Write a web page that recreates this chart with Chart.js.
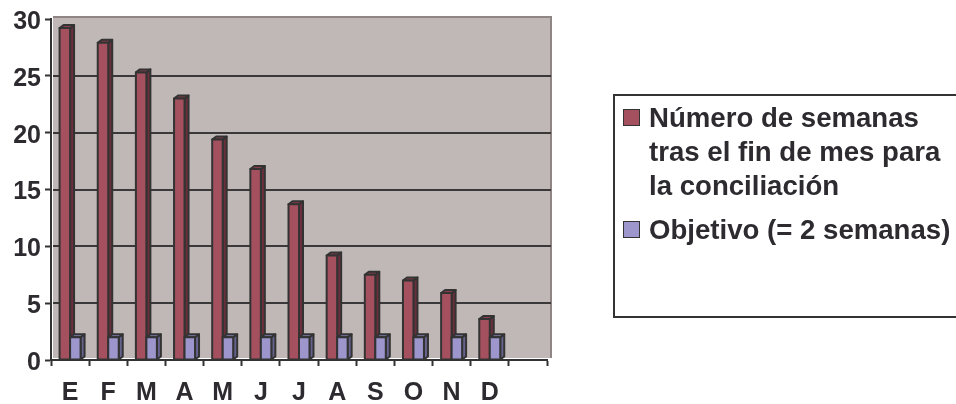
<!DOCTYPE html>
<html>
<head>
<meta charset="utf-8">
<script src="https://cdn.jsdelivr.net/npm/chart.js@4.4.1/dist/chart.umd.min.js"></script>
<style>
  html, body { margin: 0; padding: 0; background: #fff; overflow: hidden; }
  #wrap { position: relative; width: 956px; height: 404px; }
  #legenda {
    position: absolute; left: 613px; top: 94px; width: 380px; height: 224px;
    box-sizing: border-box; border: 2px solid #333; padding: 5px 0 0 8px;
    font: bold 27.6px "Liberation Sans", Arial, sans-serif; color: #2d2b30; line-height: 34px;
  }
  .item { display: flex; align-items: flex-start; margin-bottom: 10px; }
  .quad { width: 17px; height: 17px; box-sizing: border-box; border: 1.5px solid #333; margin-top: 8px; flex: none; }
  .txt { margin-left: 9px; width: 312px; }
</style>
</head>
<body>
<div id="wrap">
  <canvas id="grafico" width="956" height="404"></canvas>
  <div id="legenda"></div>
</div>
<script>
// dados
const meses = ['E', 'F', 'M', 'A', 'M', 'J', 'J', 'A', 'S', 'O', 'N', 'D', ''];
const semanas = [29.2, 27.9, 25.3, 23.0, 19.4, 16.8, 13.7, 9.2, 7.5, 7.0, 5.9, 3.6, null];
const objetivo = [2, 2, 2, 2, 2, 2, 2, 2, 2, 2, 2, 2, null];
const nomesSeries = ['Número de semanas tras el fin de mes para la conciliación', 'Objetivo (= 2 semanas)'];
const ticksY = [0, 5, 10, 15, 20, 25, 30];

const fonte = '"Liberation Sans", Arial, sans-serif';
const corTexto = '#2d2b30';

// fundo cinza da area do grafico + linhas de grade (parede de tras)
const fundoPlot = {
  id: 'fundoPlot',
  beforeDatasetsDraw: function(chart) {
    const a = chart.chartArea, ctx = chart.ctx;
    const y = chart.scales.y;
    ctx.save();
    ctx.fillStyle = '#c0b8b6';
    ctx.fillRect(a.left + 2, a.top - 2, a.right - a.left + 2, a.bottom - a.top);
    ctx.strokeStyle = '#8f8585';
    ctx.lineWidth = 2;
    ctx.beginPath();
    ctx.moveTo(a.left + 2, a.top - 2);
    ctx.lineTo(a.right + 4, a.top - 2);
    ctx.lineTo(a.right + 4, a.bottom - 2);
    ctx.stroke();
    ctx.strokeStyle = '#3a3838';
    ctx.lineWidth = 2;
    ticksY.forEach(function(v) {
      if (v === 0 || v === 30) return;
      const py = Math.round(y.getPixelForValue(v));
      ctx.beginPath();
      ctx.moveTo(a.left + 2, py);
      ctx.lineTo(a.right + 4, py);
      ctx.stroke();
    });
    ctx.restore();
  }
};

// barras com lateral e topo (efeito 3D do Excel)
const efeito3d = {
  id: 'efeito3d',
  afterDatasetsDraw: function(chart) {
    const ctx = chart.ctx;
    const d = 4, dy = 3;
    chart.data.datasets.forEach(function(ds, i) {
      const meta = chart.getDatasetMeta(i);
      meta.data.forEach(function(bar, j) {
        if (ds.data[j] == null) return;
        const p = bar.getProps(['x', 'y', 'base', 'width'], true);
        const l = p.x - p.width / 2, r = p.x + p.width / 2, t = p.y, b = p.base;
        ctx.save();
        ctx.lineWidth = 2;
        ctx.strokeStyle = '#333';
        ctx.lineJoin = 'round';
        // lateral
        ctx.fillStyle = ds.corLado;
        ctx.beginPath();
        ctx.moveTo(r, t); ctx.lineTo(r + d, t - dy); ctx.lineTo(r + d, b - dy); ctx.lineTo(r, b);
        ctx.closePath(); ctx.fill(); ctx.stroke();
        // topo
        ctx.fillStyle = ds.corTopo;
        ctx.beginPath();
        ctx.moveTo(l, t); ctx.lineTo(l + d, t - dy); ctx.lineTo(r + d, t - dy); ctx.lineTo(r, t);
        ctx.closePath(); ctx.fill(); ctx.stroke();
        // frente
        ctx.fillStyle = ds.backgroundColor;
        ctx.fillRect(l, t, r - l, b - t);
        ctx.strokeRect(l, t, r - l, b - t);
        ctx.restore();
      });
    });
  }
};

const ctx = document.getElementById('grafico').getContext('2d');
const grafico = new Chart(ctx, {
  type: 'bar',
  data: {
    labels: meses,
    datasets: [{
      label: nomesSeries[0],
      data: semanas,
      backgroundColor: '#a5505f',
      corLado: '#6b2f3b',
      corTopo: '#8a3f4d',
      borderWidth: 0,
      categoryPercentage: 0.55,
      barPercentage: 1.0
    }, {
      label: nomesSeries[1],
      data: objetivo,
      backgroundColor: '#9c96cc',
      corLado: '#67638f',
      corTopo: '#837eb3',
      borderWidth: 0,
      categoryPercentage: 0.55,
      barPercentage: 1.0
    }]
  },
  options: {
    responsive: false,
    animation: false,
    devicePixelRatio: 1,
    layout: { padding: { top: 19, right: 409, left: 0, bottom: 0 } },
    plugins: {
      legend: { display: false },
      tooltip: { enabled: false }
    },
    scales: {
      x: {
        offset: true,
        grid: { drawOnChartArea: false, offset: true, tickLength: 6, tickColor: '#333', tickWidth: 2 },
        border: { color: '#333', width: 2 },
        ticks: { font: { family: fonte, size: 25, weight: 'bold' }, color: corTexto, padding: 12, maxRotation: 0, autoSkip: false },
        afterFit: function(s) { s.height = 44; }
      },
      y: {
        min: 0,
        max: 30,
        ticks: { stepSize: 5, font: { family: fonte, size: 25, weight: 'bold' }, color: corTexto, padding: 4, labelOffset: 3 },
        grid: { drawOnChartArea: false, tickLength: 6, tickColor: '#333', tickWidth: 2 },
        border: { color: '#333', width: 2 },
        afterFit: function(s) { s.width = 51; }
      }
    }
  },
  plugins: [fundoPlot, efeito3d]
});

// legenda em caixa, feita a partir dos datasets
const leg = document.getElementById('legenda');
grafico.data.datasets.forEach(function(ds) {
  const item = document.createElement('div');
  item.className = 'item';
  const q = document.createElement('div');
  q.className = 'quad';
  q.style.background = ds.backgroundColor;
  const t = document.createElement('div');
  t.className = 'txt';
  t.textContent = ds.label;
  item.appendChild(q);
  item.appendChild(t);
  leg.appendChild(item);
});
</script>
</body>
</html>
